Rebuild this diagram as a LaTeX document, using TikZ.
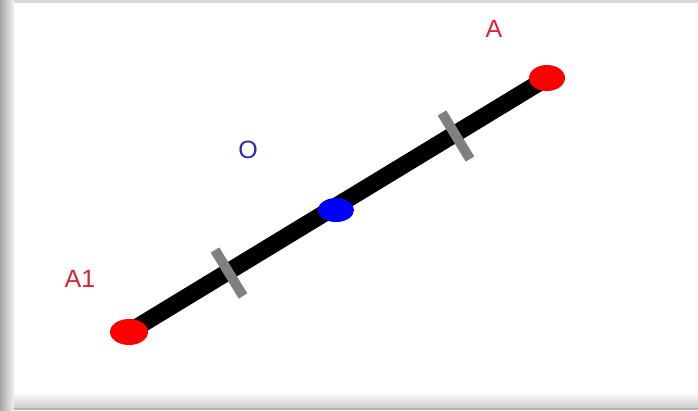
\documentclass[tikz,border=0pt]{standalone}
\usepackage{fontspec}
\setmainfont{Liberation Sans}
\usetikzlibrary{shapes.geometric,calc}
\definecolor{lblred}{RGB}{215,35,55}
\definecolor{lblblue}{RGB}{45,45,170}
\definecolor{tickgrey}{RGB}{128,128,128}
\tikzset{
  pt/.style={ellipse, inner sep=0pt, minimum width=38pt, minimum height=26pt},
  endpt/.style={pt, fill=red},
  midpt/.style={pt, fill=blue, minimum width=36pt, minimum height=24pt},
  lbl/.style={font=\fontsize{25}{25}\selectfont, inner sep=0pt},
  seg/.style={line width=17pt, black},
  tick/.style={line width=10pt, tickgrey}
}
\begin{document}
\begin{tikzpicture}[x=1pt,y=-1pt]
\useasboundingbox (0,0) rectangle (698,410);
\fill[white] (0,0) rectangle (698,410);
% frame / shadow
\shade[left color=gray!70, right color=gray!10] (0,0) rectangle (14,410);
\fill[gray!30] (14,0) rectangle (698,3);
\shade[top color=white, bottom color=gray!40] (14,392) rectangle (698,408);
\fill[gray!60] (14,408) rectangle (698,410);
\fill[white] (14,3) rectangle (698,392);
% segment
\coordinate (P1) at (129,332);
\coordinate (P2) at (547,78);
\draw[seg] (P1) -- (P2);
% ticks
\coordinate (T1) at (229,273);
\coordinate (T2) at (456,136);
\draw[tick] ($(T1)+(-14,-23)$) coordinate (t1a) -- ($(T1)+(14,23)$) coordinate (t1b);
\draw[tick] ($(T2)+(-14,-23)$) coordinate (t2a) -- ($(T2)+(14,23)$) coordinate (t2b);
% points
\node[endpt] (A1) at (P1) {};
\node[endpt, minimum width=36pt] (A) at (P2) {};
\node[midpt] (O) at (336,210) {};
% labels
\node[lbl, text=lblred] (lA) at (494,29) {A};
\node[lbl, text=lblred] (lA1) at (80,279) {A1};
\node[lbl, text=lblblue] (lO) at (248,150) {O};
\end{tikzpicture}
\end{document}
